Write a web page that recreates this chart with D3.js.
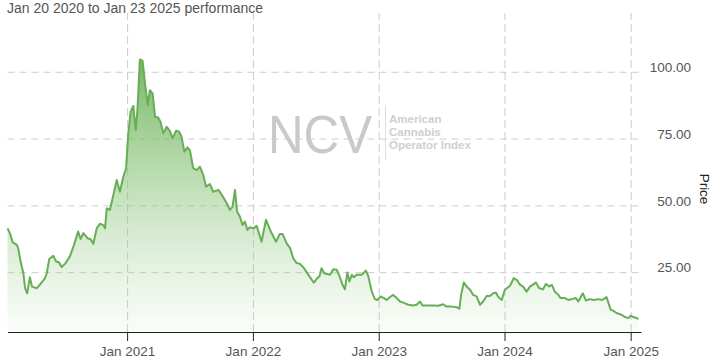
<!DOCTYPE html>
<html>
<head>
<meta charset="utf-8">
<script src="https://cdn.jsdelivr.net/npm/d3@7"></script>
<style>
  body { margin: 0; background: #fff; }
  svg { display: block; font-family: Arial, "Liberation Sans", sans-serif; }
</style>
</head>
<body>
<div id="container"></div>
<script>
// price readings
const dates = [
  "2020-01-20","2020-01-27","2020-02-04","2020-02-16","2020-02-20","2020-02-27","2020-03-06","2020-03-11",
  "2020-03-17","2020-03-25","2020-03-31","2020-04-14","2020-04-23","2020-05-08","2020-05-13","2020-05-20",
  "2020-06-01","2020-06-09","2020-06-18","2020-06-25","2020-07-05","2020-07-19","2020-07-31","2020-08-12",
  "2020-08-19","2020-08-27","2020-09-08","2020-09-17","2020-09-25","2020-10-05","2020-10-14","2020-10-24",
  "2020-10-29","2020-11-03","2020-11-12","2020-11-20","2020-12-02","2020-12-11","2020-12-21","2020-12-29",
  "2021-01-04","2021-01-11","2021-01-19","2021-01-26","2021-01-31","2021-02-07","2021-02-15","2021-02-22",
  "2021-03-02","2021-03-08","2021-03-16","2021-03-23","2021-04-01","2021-04-08","2021-04-16","2021-04-26",
  "2021-05-05","2021-05-13","2021-05-23","2021-06-01","2021-06-08","2021-06-16","2021-06-25","2021-07-02",
  "2021-07-12","2021-07-22","2021-07-31","2021-08-10","2021-08-18","2021-08-29","2021-09-08","2021-09-23",
  "2021-10-05","2021-10-17","2021-10-26","2021-11-03","2021-11-10","2021-11-16","2021-11-24","2021-12-02",
  "2021-12-09","2021-12-16","2021-12-23","2022-01-02","2022-01-12","2022-01-17","2022-01-26","2022-02-08",
  "2022-02-20","2022-03-09","2022-03-20","2022-03-28","2022-04-09","2022-04-19","2022-04-28","2022-05-08",
  "2022-05-18","2022-05-29","2022-06-11","2022-06-21","2022-06-27","2022-07-07","2022-07-13","2022-07-19",
  "2022-07-27","2022-08-13","2022-08-22","2022-09-01","2022-09-09","2022-09-18","2022-09-25","2022-10-02",
  "2022-10-08","2022-10-15","2022-10-21","2022-10-29","2022-11-13","2022-11-25","2022-12-02","2022-12-12",
  "2022-12-21","2022-12-28","2023-01-07","2023-01-16","2023-01-24","2023-02-03","2023-02-12","2023-02-22",
  "2023-03-04","2023-03-13","2023-03-28","2023-04-11","2023-04-21","2023-05-01","2023-05-08","2023-05-25",
  "2023-06-08","2023-06-23","2023-07-07","2023-07-17","2023-08-01","2023-08-15","2023-08-23","2023-08-28",
  "2023-09-05","2023-09-13","2023-09-23","2023-10-02","2023-10-12","2023-10-22","2023-10-31","2023-11-10",
  "2023-11-20","2023-11-29","2023-12-07","2023-12-14","2023-12-24","2024-01-02","2024-01-17","2024-01-28",
  "2024-02-07","2024-02-15","2024-02-24","2024-03-05","2024-03-15","2024-04-01","2024-04-11","2024-04-22",
  "2024-04-30","2024-05-10","2024-05-17","2024-05-26","2024-06-05","2024-06-12","2024-06-24","2024-07-04",
  "2024-07-17","2024-07-26","2024-08-02","2024-08-15","2024-08-24","2024-09-05","2024-09-16","2024-09-29",
  "2024-10-09","2024-10-15","2024-10-23","2024-11-04","2024-11-11","2024-11-21","2024-12-06","2024-12-16",
  "2024-12-25","2025-01-01","2025-01-09","2025-01-19","2025-01-23"
];
const prices = [
  41.4,39.6,36.2,35.2,34.0,29.0,24.6,19.0,
  17.1,23.1,19.6,19.0,20.3,22.8,24.6,29.9,
  31.1,29.0,28.6,26.9,28.1,30.9,35.2,40.2,
  37.4,39.6,37.7,37.3,35.6,41.4,43.1,42.6,
  41.4,48.9,48.3,52.7,59.5,55.1,60.7,63.9,
  76.3,85.0,87.2,78.2,85.7,104.6,104.1,95.6,
  87.5,93.1,91.9,83.2,82.9,81.3,77.0,79.4,
  77.9,75.1,77.9,77.6,75.7,70.1,71.7,70.7,
  63.9,63.2,64.5,61.4,57.0,58.0,55.1,55.8,
  53.5,50.8,48.3,49.5,55.8,47.7,45.8,42.7,
  43.9,40.8,41.8,41.4,42.3,40.2,36.4,44.6,
  40.8,36.4,39.3,39.3,35.8,34.0,30.2,28.4,
  28.1,26.5,24.0,22.1,21.1,22.8,23.4,26.5,
  24.6,24.0,26.1,25.9,23.6,20.3,18.6,24.9,
  21.5,24.0,23.1,24.0,24.0,25.6,23.4,17.7,
  14.9,14.6,15.9,15.3,14.6,15.7,16.5,15.3,
  14.0,13.6,12.8,12.5,12.8,14.0,12.5,12.5,
  12.5,12.4,13.0,12.1,12.1,11.9,11.3,16.5,
  21.1,19.6,18.4,16.5,15.9,12.8,14.0,16.1,
  16.1,17.1,17.4,15.7,14.6,18.4,19.9,22.8,
  21.9,20.3,19.6,17.7,19.6,21.1,19.0,18.6,
  20.6,19.6,20.3,17.7,16.5,15.3,15.3,14.6,
  15.0,15.3,14.0,17.1,14.4,14.9,14.6,14.9,
  14.6,14.9,15.7,10.9,10.6,9.7,9.0,8.2,
  7.8,8.7,8.2,7.8,7.4
];
const xTickDates = ["2021-01-01","2022-01-01","2023-01-01","2024-01-01","2025-01-01"];
const yTickValues = [25, 50, 75, 100];
const title = "Jan 20 2020 to Jan 23 2025 performance";

const w = 716;
const h = 362;
const plotLeft = 7.5, plotRight = 641, plotTop = 13, plotBottom = 332;
const parseDate = d3.timeParse("%Y-%m-%d");

const data = dates.map((d, i) => ({ date: parseDate(d), price: prices[i] }));

const svg = d3.select("#container")
  .append("svg")
  .attr("width", w)
  .attr("height", h);

const xScale = d3.scaleTime()
  .domain([parseDate("2020-01-20"), parseDate("2025-01-31")])
  .range([plotLeft, plotRight]);

const yScale = d3.scaleLinear()
  .domain([2.6, 122])
  .range([plotBottom, plotTop]);

// watermark
const mark = svg.append("g").attr("class", "watermark");
mark.append("text")
  .attr("x", 268)
  .attr("y", 153)
  .attr("textLength", 104)
  .attr("lengthAdjust", "spacingAndGlyphs")
  .style("font-size", "54px")
  .style("fill", "#c9c9c9")
  .text("NCV");
mark.append("line")
  .attr("x1", 385.5).attr("x2", 385.5)
  .attr("y1", 105).attr("y2", 160)
  .style("stroke", "#dddddd");
["American", "Cannabis", "Operator Index"].forEach((t, i) => {
  mark.append("text")
    .attr("x", 389)
    .attr("y", 123 + i * 12.8)
    .style("font-size", "11.5px")
    .style("font-weight", "bold")
    .style("fill", "#cfcfcf")
    .text(t);
});

// grid
const hGrid = svg.append("g")
  .attr("transform", "translate(" + plotLeft + ",0)")
  .call(d3.axisRight(yScale).tickValues(yTickValues).tickSize(640 - plotLeft).tickFormat(""));
hGrid.select(".domain").remove();
hGrid.selectAll("line")
  .style("stroke", "#cccccc")
  .style("stroke-dasharray", "7,5");

const vGrid = svg.append("g")
  .attr("transform", "translate(0," + plotBottom + ")")
  .call(d3.axisBottom(xScale).tickValues(xTickDates.map(parseDate)).tickSize(-(plotBottom - plotTop)).tickFormat(""));
vGrid.select(".domain").remove();
vGrid.selectAll("line")
  .style("stroke", "#cccccc")
  .style("stroke-dasharray", "8,4");

// area + line
const defs = svg.append("defs");
const grad = defs.append("linearGradient")
  .attr("id", "fade")
  .attr("gradientUnits", "userSpaceOnUse")
  .attr("x1", 0).attr("x2", 0)
  .attr("y1", yScale(d3.max(prices))).attr("y2", plotBottom);
grad.append("stop").attr("offset", "0%").attr("stop-color", "#6fb45d").attr("stop-opacity", 0.95);
grad.append("stop").attr("offset", "55%").attr("stop-color", "#8cc67b").attr("stop-opacity", 0.45);
grad.append("stop").attr("offset", "100%").attr("stop-color", "#a8d69a").attr("stop-opacity", 0.06);

const area = d3.area()
  .x((d) => xScale(d.date))
  .y0(plotBottom)
  .y1((d) => yScale(d.price));

const line = d3.line()
  .x((d) => xScale(d.date))
  .y((d) => yScale(d.price));

svg.append("path")
  .datum(data)
  .attr("d", area)
  .style("fill", "url(#fade)");

svg.append("path")
  .datum(data)
  .attr("d", line)
  .style("fill", "none")
  .style("stroke", "#68ad57")
  .style("stroke-width", 2)
  .style("stroke-linejoin", "round");

// x axis
const xAxis = svg.append("g")
  .attr("transform", "translate(0," + plotBottom + ")")
  .call(d3.axisBottom(xScale)
    .tickValues(xTickDates.map(parseDate))
    .tickFormat(d3.timeFormat("%b %Y"))
    .tickSize(9)
    .tickSizeOuter(0)
    .tickPadding(5));
xAxis.select(".domain").style("stroke", "#222");
xAxis.selectAll(".tick line").style("stroke", "#222");
xAxis.selectAll("text")
  .style("font-size", "13.5px")
  .style("fill", "#555")
  .style("font-family", "Arial, 'Liberation Sans', sans-serif");

// y labels on the right
const yAxis = svg.append("g")
  .attr("transform", "translate(691,0)")
  .call(d3.axisRight(yScale).tickValues(yTickValues).tickFormat(d3.format(".2f")).tickSize(0).tickPadding(0));
yAxis.select(".domain").remove();
yAxis.selectAll("text")
  .attr("text-anchor", "end")
  .attr("dy", "-0.02em")
  .style("font-size", "13.5px")
  .style("fill", "#555")
  .style("font-family", "Arial, 'Liberation Sans', sans-serif");

svg.append("text")
  .attr("transform", "translate(700,189) rotate(90)")
  .attr("text-anchor", "middle")
  .style("font-size", "13.5px")
  .style("fill", "#222")
  .text("Price");

svg.append("text")
  .attr("x", 7)
  .attr("y", 13)
  .style("font-size", "14px")
  .style("fill", "#555")
  .text(title);
</script>
</body>
</html>
